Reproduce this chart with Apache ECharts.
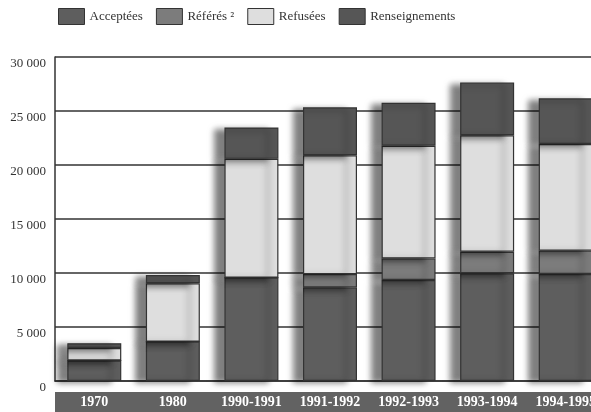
<!DOCTYPE html>
<html>
<head>
<meta charset="utf-8">
<script src="https://cdn.jsdelivr.net/npm/echarts@6/dist/echarts.min.js"></script>
<style>
    html, body { margin: 0; padding: 0; background: #fff; }
    #chart { width: 591px; height: 412px; }
</style>
</head>
<body>
<div id="chart"></div>
<script>
var categories = ['1970', '1980', '1990-1991', '1991-1992', '1992-1993', '1993-1994', '1994-1995'];
var acceptees = [1900, 3650, 9570, 8670, 9350, 9970, 9910];
var referes = [0, 0, 0, 1230, 2000, 2000, 2160];
var refusees = [1150, 5400, 11000, 11000, 10430, 10780, 9870];
var renseignements = [450, 770, 2900, 4440, 3980, 4900, 4230];
var y_ticks = [0, 5000, 10000, 15000, 20000, 25000, 30000];

function make_series(name, data, color) {
    return {
        name: name,
        type: 'bar',
        stack: 'total',
        barWidth: 54,
        data: data,
        itemStyle: {
            color: color,
            borderColor: '#333',
            borderWidth: 1.2,
            shadowColor: 'rgba(0,0,0,0.5)',
            shadowBlur: 6,
            shadowOffsetX: -10,
            shadowOffsetY: 2
        }
    };
}

var chart = echarts.init(document.getElementById('chart'));
var option = {
    animation: false,
    textStyle: { fontFamily: 'Liberation Serif' },
    legend: {
        left: 53,
        top: 3,
        icon: 'rect',
        itemWidth: 26,
        itemHeight: 16,
        itemGap: 13,
        itemStyle: { borderColor: '#333', borderWidth: 1, shadowBlur: 0, shadowOffsetX: 0, shadowOffsetY: 0 },
        textStyle: { fontFamily: 'Liberation Serif', fontSize: 13, color: '#333' },
        data: ['Acceptées', 'Référés ²', 'Refusées', 'Renseignements']
    },
    grid: {
        left: 55,
        top: 57,
        width: 550,
        height: 324,
        outerBoundsMode: 'none'
    },
    graphic: [{
        type: 'rect',
        z: -1,
        shape: { x: 55, y: 392, width: 540, height: 20 },
        style: { fill: '#626262' }
    }],
    xAxis: {
        type: 'category',
        data: categories,
        axisLine: { lineStyle: { color: '#333', width: 1.5 } },
        axisTick: { show: false },
        axisLabel: {
            interval: 0,
            margin: 14,
            color: '#fff',
            fontFamily: 'Liberation Serif',
            fontWeight: 'bold',
            fontSize: 14
        }
    },
    yAxis: {
        type: 'value',
        min: y_ticks[0],
        max: y_ticks[y_ticks.length - 1],
        interval: 5000,
        axisLine: { show: true, lineStyle: { color: '#333', width: 1.5 } },
        axisTick: { show: false },
        splitLine: { lineStyle: { color: '#333', width: 1.5 } },
        axisLabel: {
            margin: 9,
            verticalAlign: 'top',
            color: '#333',
            fontFamily: 'Liberation Serif',
            fontSize: 13,
            formatter: function (v) {
                return v === 0 ? '0' : (v / 1000) + ' 000';
            }
        }
    },
    series: [
        make_series('Acceptées', acceptees, '#5e5e5e'),
        make_series('Référés ²', referes, '#7c7c7c'),
        make_series('Refusées', refusees, '#dedede'),
        make_series('Renseignements', renseignements, '#565656')
    ]
};

chart.setOption(option);
</script>
</body>
</html>
